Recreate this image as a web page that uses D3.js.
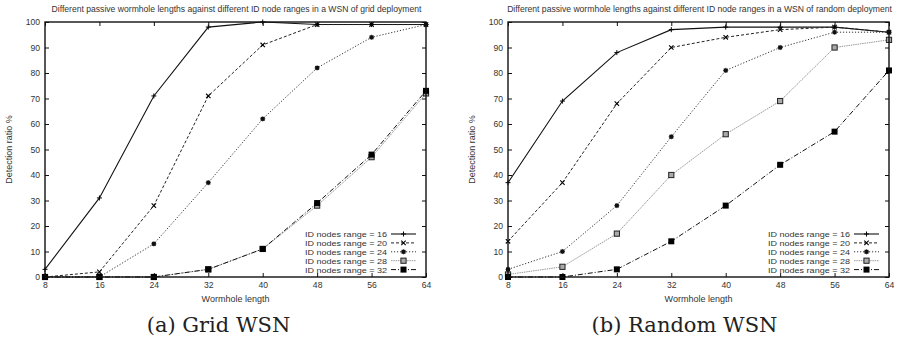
<!DOCTYPE html>
<html>
<head>
<meta charset="utf-8">
<script src="https://cdn.jsdelivr.net/npm/d3@7"></script>
<style>
  body { margin: 0; background: #fff; }
  svg { display: block; }
  .tick text { font-family: "Liberation Sans", Arial, sans-serif; font-size: 8.6px; fill: #333; }
  .lab { font-family: "Liberation Sans", Arial, sans-serif; font-size: 9px; fill: #333; }
  .ttl { font-family: "Liberation Sans", Arial, sans-serif; font-size: 8.6px; fill: #333; }
  .leg { font-family: "Liberation Sans", Arial, sans-serif; font-size: 8px; fill: #333; }
  .cap { font-family: "DejaVu Serif", serif; font-size: 21px; fill: #222; }
</style>
</head>
<body>
<div id="graph"></div>
<script>
(function() {
    // data
    const lengths = [8, 16, 24, 32, 40, 48, 56, 64];
    const ranges = [16, 20, 24, 28, 32];
    const yTicks = [0, 10, 20, 30, 40, 50, 60, 70, 80, 90, 100];

    const grid16 = [3, 31, 71, 98, 100, 99, 99, 99];
    const grid20 = [0, 2, 28, 71, 91, 99, 99, 99];
    const grid24 = [0, 0, 13, 37, 62, 82, 94, 99];
    const grid28 = [0, 0, 0, 3, 11, 28, 47, 72];
    const grid32 = [0, 0, 0, 3, 11, 29, 48, 73];

    const rand16 = [37, 69, 88, 97, 98, 98, 98, 96];
    const rand20 = [14, 37, 68, 90, 94, 97, 98, 96];
    const rand24 = [3, 10, 28, 55, 81, 90, 96, 96];
    const rand28 = [1, 4, 17, 40, 56, 69, 90, 93];
    const rand32 = [0, 0, 3, 14, 28, 44, 57, 81];

    const width = 898, height = 340;

    // line + marker style per series (gnuplot look)
    const styles = [
        {stroke: "#111", dash: null, width: 1.1, marker: "plus"},
        {stroke: "#222", dash: "3,2", width: 1, marker: "cross"},
        {stroke: "#333", dash: "1.2,1.8", width: 1, marker: "star"},
        {stroke: "#999", dash: "1.5,0.8", width: 1, marker: "box"},
        {stroke: "#111", dash: "5,2,1,2", width: 1, marker: "fbox"}
    ];

    const svg = d3.select("#graph")
        .append("svg")
        .attr("width", width)
        .attr("height", height);

    function marker(g, type, x, y) {
        if (type === "plus") {
            g.append("path").attr("d", `M${x-2.5},${y}H${x+2.5}M${x},${y-2.5}V${y+2.5}`)
                .attr("stroke", "#000").attr("stroke-width", 1);
        } else if (type === "cross") {
            g.append("path").attr("d", `M${x-2.2},${y-2.2}L${x+2.2},${y+2.2}M${x-2.2},${y+2.2}L${x+2.2},${y-2.2}`)
                .attr("stroke", "#000").attr("stroke-width", 1.1);
        } else if (type === "star") {
            g.append("rect").attr("x", x - 2).attr("y", y - 2).attr("width", 4).attr("height", 4)
                .attr("fill", "#111");
            g.append("path").attr("d", `M${x-2.6},${y}H${x+2.6}M${x},${y-2.6}V${y+2.6}`)
                .attr("stroke", "#111").attr("stroke-width", 0.7);
        } else if (type === "box") {
            g.append("rect").attr("x", x - 2.6).attr("y", y - 2.6).attr("width", 5.2).attr("height", 5.2)
                .attr("fill", "#aaa").attr("stroke", "#222").attr("stroke-width", 1);
        } else {
            g.append("rect").attr("x", x - 3).attr("y", y - 3).attr("width", 6).attr("height", 6)
                .attr("fill", "#000");
        }
    }

    function panel(left, series, title, caption, capShift) {
        const plotW = 381, top = 22, bottom = 277;
        const x = d3.scaleLinear().domain([8, 64]).range([left, left + plotW]);
        const y = d3.scaleLinear().domain([0, 100]).range([bottom, top]);

        const g = svg.append("g");

        // title
        g.append("text").attr("class", "ttl")
            .attr("x", left + plotW / 2 + 1).attr("y", 12)
            .attr("text-anchor", "middle")
            .text(title);

        // axes with inward ticks, mirrored
        g.append("g")
            .attr("transform", "translate(0," + bottom + ")")
            .call(d3.axisBottom(x).tickValues(lengths).tickSize(-4).tickPadding(5))
            .call(a => a.select(".domain").remove());
        g.append("g")
            .attr("transform", "translate(0," + top + ")")
            .call(d3.axisTop(x).tickValues(lengths).tickSize(-4).tickFormat(""))
            .call(a => a.select(".domain").remove());
        g.append("g")
            .attr("transform", "translate(" + left + ",0)")
            .call(d3.axisLeft(y).tickValues(yTicks).tickSize(-4).tickPadding(5))
            .call(a => a.select(".domain").remove());
        g.append("g")
            .attr("transform", "translate(" + (left + plotW) + ",0)")
            .call(d3.axisRight(y).tickValues(yTicks).tickSize(-4).tickFormat(""))
            .call(a => a.select(".domain").remove());
        g.selectAll(".tick line").attr("stroke", "#111").attr("stroke-width", 1);

        // axis labels
        g.append("text").attr("class", "lab")
            .attr("x", left + plotW / 2).attr("y", 302)
            .attr("text-anchor", "middle")
            .text("Wormhole length");
        g.append("text").attr("class", "lab")
            .attr("transform", "translate(" + (left - 33) + "," + ((top + bottom) / 2) + ") rotate(-90)")
            .attr("text-anchor", "middle")
            .text("Detection ratio %");

        const line = d3.line()
            .x((d, i) => x(lengths[i]))
            .y(d => y(d));

        const clip = "clip" + left;
        svg.append("clipPath").attr("id", clip)
            .append("rect").attr("x", left - 4).attr("y", top - 4).attr("width", plotW + 8).attr("height", bottom - top + 8);

        const plot = g.append("g").attr("clip-path", "url(#" + clip + ")");
        series.forEach((vals, k) => {
            const s = styles[k];
            plot.append("path")
                .attr("d", line(vals))
                .attr("fill", "none")
                .attr("stroke", s.stroke)
                .attr("stroke-width", s.width)
                .attr("stroke-dasharray", s.dash);
        });
        series.forEach((vals, k) => {
            vals.forEach((v, i) => marker(plot, styles[k].marker, x(lengths[i]), y(v)));
        });

        // frame
        g.append("rect")
            .attr("x", left).attr("y", top)
            .attr("width", plotW).attr("height", bottom - top)
            .attr("fill", "none").attr("stroke", "#111").attr("stroke-width", 1.4);

        // legend
        const legRight = left + plotW - 39;
        ranges.forEach((r, k) => {
            const ly = 234 + k * 8.9;
            const s = styles[k];
            g.append("text").attr("class", "leg")
                .attr("x", legRight - 82).attr("y", ly + 3)
                .attr("textLength", 82)
                .attr("lengthAdjust", "spacingAndGlyphs")
                .text("ID nodes range = " + r);
            g.append("line")
                .attr("x1", legRight + 4).attr("x2", legRight + 29)
                .attr("y1", ly).attr("y2", ly)
                .attr("stroke", s.stroke)
                .attr("stroke-width", s.width)
                .attr("stroke-dasharray", s.dash);
            marker(g, s.marker, legRight + 16.5, ly);
        });

        // caption
        g.append("text").attr("class", "cap")
            .attr("x", left + plotW / 2 + capShift).attr("y", 332)
            .attr("text-anchor", "middle")
            .text(caption);
    }

    panel(45, [grid16, grid20, grid24, grid28, grid32],
        "Different passive wormhole lengths against different ID node ranges in a WSN of grid deployment",
        "(a) Grid WSN", -17);
    panel(508, [rand16, rand20, rand24, rand28, rand32],
        "Different passive wormhole lengths against different ID node ranges in a WSN of random deployment",
        "(b) Random WSN", -14);
})();
</script>
</body>
</html>
